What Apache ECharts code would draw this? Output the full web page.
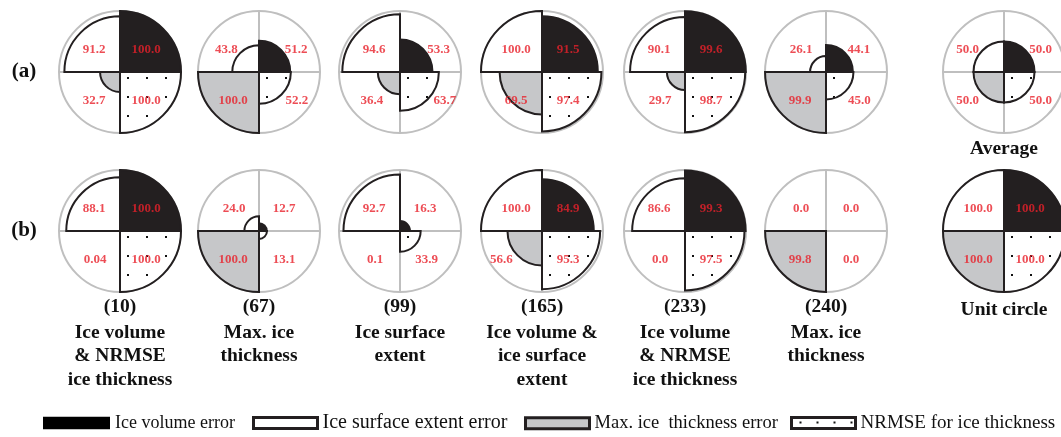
<!DOCTYPE html>
<html><head><meta charset="utf-8">
<script src="https://cdn.jsdelivr.net/npm/echarts@6/dist/echarts.min.js"></script>
<style>html,body{margin:0;padding:0;background:#fff}#c{width:1061px;height:437px}</style>
</head><body><div id="c"></div>
<script>
// ---------- DATA ----------
// quadrant order (clockwise from top-right): volume, NRMSE, max thickness, surface extent
const legendNames = ['Ice volume error', 'NRMSE for ice thickness', 'Max. ice  thickness error', 'Ice surface extent error'];
const runIds = ['(10)', '(67)', '(99)', '(165)', '(233)', '(240)'];
const runDescriptions = ['Ice volume\n& NRMSE\nice thickness', 'Max. ice\nthickness', 'Ice surface\nextent', 'Ice volume &\nice surface\nextent', 'Ice volume\n& NRMSE\nice thickness', 'Max. ice\nthickness'];
const rowLabels = ['(a)', '(b)'];
const extraLabels = ['Average', 'Unit circle'];

// Row (a)
const aVolume   = [100.0, 51.2, 53.3, 91.5, 99.6, 44.1, 50.0];
const aSurface  = [91.2, 43.8, 94.6, 100.0, 90.1, 26.1, 50.0];
const aMaxThick = [32.7, 100.0, 36.4, 69.5, 29.7, 99.9, 50.0];
const aNrmse    = [100.0, 52.2, 63.7, 97.4, 98.7, 45.0, 50.0];
// Row (b)
const bVolume   = [100.0, 12.7, 16.3, 84.9, 99.3, 0.0, 100.0];
const bSurface  = [88.1, 24.0, 92.7, 100.0, 86.6, 0.0, 100.0];
const bMaxThick = [0.04, 100.0, 0.1, 56.6, 0.0, 99.8, 100.0];
const bNrmse    = [100.0, 13.1, 33.9, 95.3, 97.5, 0.0, 100.0];

// ---------- LAYOUT / STYLE ----------
const SERIF = '"Liberation Serif", "Times New Roman", serif';
const colX = [120, 259, 400, 542, 685, 826, 1004];
const rowY = [72, 231];
const R = 61;
const BLACK = '#231f20', GRAY = '#c6c7c9', AXISGRAY = '#bfbfbf', RED = '#e8202a';
const catKeys = ['v', 'n', 'm', 's'];

function dotCanvas(step) {
  const c = document.createElement('canvas');
  c.width = step; c.height = step;
  const g = c.getContext('2d');
  g.fillStyle = '#fff'; g.fillRect(0, 0, step, step);
  g.fillStyle = '#111';
  const h = Math.floor(step / 2);
  g.fillRect(h - 1, h - 1, 2, 2);
  return c;
}
const dots19 = dotCanvas(19);
const dots17 = dotCanvas(17);

function quadStyle(q, cx, cy) {
  if (q === 0) return { color: BLACK, borderColor: BLACK, borderWidth: 2 };
  if (q === 1) return { color: { image: dots19, repeat: 'repeat', x: cx - 1, y: cy - 3 }, borderColor: BLACK, borderWidth: 2 };
  if (q === 2) return { color: GRAY, borderColor: BLACK, borderWidth: 2 };
  return { color: '#fff', borderColor: BLACK, borderWidth: 2 };
}
function fmt(v) { return (v > 0 && v < 0.1) ? v.toFixed(2) : v.toFixed(1); }
// label placement: inside large sectors, just outside smaller ones
function labelOffset(v, q) {
  const dx = v > 65 ? 26 : Math.max(25, 0.61 * v + 6);
  const sx = (q === 0 || q === 1) ? 1 : -1;
  const dy = (q === 0 || q === 3) ? -22 : 29;
  return [sx * dx, dy];
}

const rows = [
  [aVolume, aNrmse, aMaxThick, aSurface],
  [bVolume, bNrmse, bMaxThick, bSurface]
];

const polar = [], angleAxis = [], radiusAxis = [], series = [];
let idx = 0;
rows.forEach((row, r) => {
  row[0].forEach((_, k) => {
    const cx = colX[k], cy = rowY[r];
    polar.push({ center: [cx, cy], radius: R });
    angleAxis.push({
      polarIndex: idx, type: 'category', data: catKeys, startAngle: 90, clockwise: true,
      axisLine: { show: true, lineStyle: { color: AXISGRAY, width: 2 } },
      axisTick: { show: false }, axisLabel: { show: false },
      splitLine: { show: true, lineStyle: { color: AXISGRAY, width: 2 } }
    });
    radiusAxis.push({
      polarIndex: idx, type: 'value', min: 0, max: 100,
      axisLine: { show: false }, axisTick: { show: false }, axisLabel: { show: false }, splitLine: { show: false }
    });
    for (let q = 0; q < 4; q++) {
      series.push({
        type: 'bar', name: legendNames[q], coordinateSystem: 'polar', polarIndex: idx,
        barGap: '-100%', barCategoryGap: '0%', silent: true, animation: false,
        data: catKeys.map((c, j) => j === q ? row[q][k] : '-'),
        itemStyle: quadStyle(q, cx, cy)
      });
    }
    series.push({
      type: 'scatter', coordinateSystem: 'polar', polarIndex: idx, z: 5, silent: true, animation: false,
      symbolSize: 1, itemStyle: { color: 'rgba(0,0,0,0)' },
      data: catKeys.map((c, q) => ({
        name: fmt(row[q][k]), value: [0, q],
        label: { show: true, position: 'inside', offset: labelOffset(row[q][k], q), formatter: '{b}',
                 color: RED, fontFamily: SERIF, fontWeight: 'bold', fontSize: 13 }
      }))
    });
    idx++;
  });
});

// legends
const legendX = [43, 252, 524, 790];
const legendFont = [18, 20, 18.5, 19];
const legendOrder = [0, 3, 2, 1];
const legendStyles = [
  { color: '#000', borderColor: '#000', borderWidth: 0 },
  { color: { image: dots17, repeat: 'repeat', x: 1, y: -3 }, borderColor: BLACK, borderWidth: 3 },
  { color: GRAY, borderColor: BLACK, borderWidth: 3 },
  { color: '#fff', borderColor: BLACK, borderWidth: 3 }
];
const legend = legendOrder.map((q, i) => ({
  data: [{ name: legendNames[q], itemStyle: legendStyles[q], icon: 'rect' }],
  left: legendX[i], top: 424 - legendFont[i] / 2 - 1, padding: 0,
  itemWidth: i === 0 ? 67 : 64, itemHeight: i === 0 ? 12.5 : 11, selectedMode: false,
  textStyle: { fontFamily: SERIF, fontSize: legendFont[i], color: '#111' }
}));

// texts
function txt(x, y, text, font, extra) {
  return { type: 'text', x: x, y: y, silent: true,
    style: Object.assign({ text: text, font: font, fill: '#111', textAlign: 'center', align: 'center', textVerticalAlign: 'middle', verticalAlign: 'middle' }, extra || {}) };
}
const graphic = [];
rowLabels.forEach((t, r) => graphic.push(txt(24, rowY[r], t, 'bold 21px ' + SERIF)));
graphic.push(txt(colX[6], 149, extraLabels[0], 'bold 19.5px ' + SERIF));
graphic.push(txt(colX[6], 310, extraLabels[1], 'bold 19.5px ' + SERIF));
runIds.forEach((t, k) => {
  graphic.push(txt(colX[k], 307, t, 'bold 19.5px ' + SERIF));
  graphic.push(txt(colX[k], 321, runDescriptions[k], 'bold 19.5px ' + SERIF,
    { textVerticalAlign: 'top', verticalAlign: 'top', lineHeight: 23.5 }));
});

const chart = echarts.init(document.getElementById('c'), null, { renderer: 'canvas' });
chart.setOption({
  animation: false,
  backgroundColor: '#fff',
  polar, angleAxis, radiusAxis, series, legend, graphic
});
</script>
</body></html>
